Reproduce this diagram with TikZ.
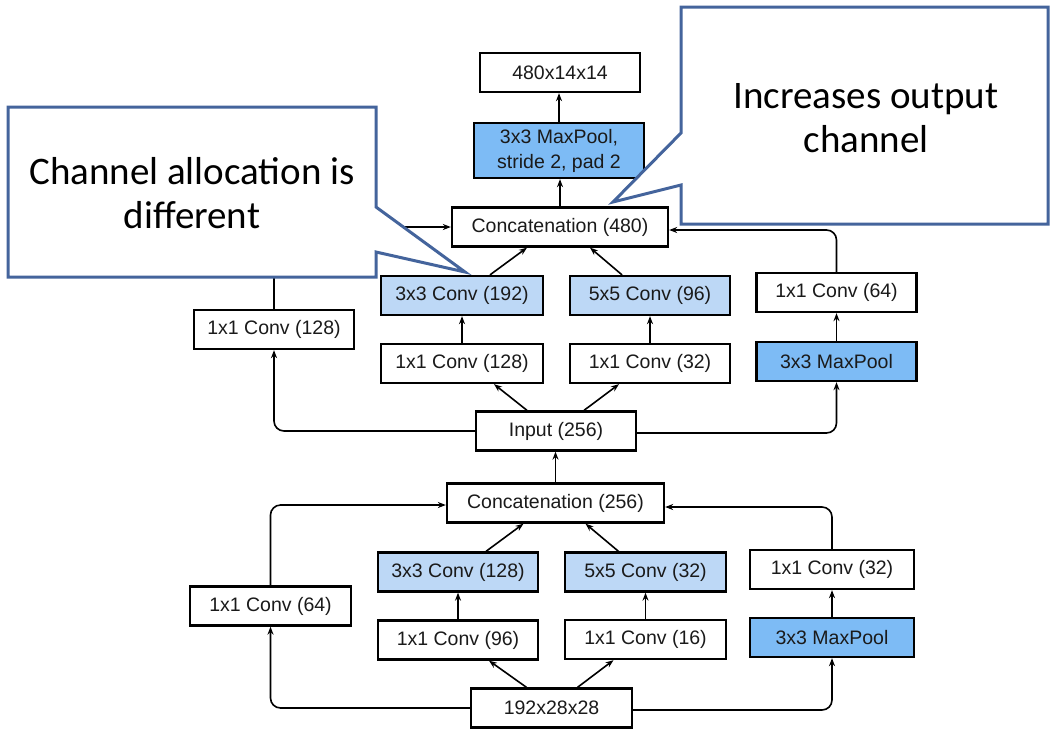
\documentclass[tikz,border=0pt]{standalone}
\usepackage{fontspec}
\setmainfont{Liberation Sans}
\newfontfamily\callfont{Carlito}
\usetikzlibrary{arrows.meta,calc}
\definecolor{lblue}{HTML}{BDD8F6}
\definecolor{dblue}{HTML}{7DBBF5}
\definecolor{callc}{HTML}{44649C}
\definecolor{txt}{HTML}{1A1A1A}
\begin{document}
\begin{tikzpicture}[x=1pt,y=-1pt,
  box/.style={draw=black,line width=2.3pt,fill=white,inner sep=0pt,
    minimum width=160pt,minimum height=39pt,align=center,text=txt,
    font=\fontsize{19.5}{25}\selectfont},
  conv/.style={box,fill=lblue},
  pool/.style={box,fill=dblue},
  arr/.style={-{Stealth[length=8pt,width=6pt]},line width=1.6pt},
  elbow/.style={arr,rounded corners=10pt},
  callout/.style={draw=callc,line width=3pt,fill=white,line join=miter},
  calltext/.style={align=center,font=\callfont\fontsize{39}{44}\selectfont}]
\useasboundingbox (0,0) rectangle (1056,740);
\fill[white] (0,0) rectangle (1056,740);

% ---- upper inception block ----
\node[box] (out480) at (560,72.5) {480x14x14};
\node[pool,minimum width=170pt,minimum height=55pt] (mpS) at (559,150.5) {3x3 MaxPool,\\stride 2, pad 2};
\node[box,minimum width=216pt] (cat480) at (560,227) {Concatenation (480)};
\node[conv,minimum width=162pt] (c3a) at (462,295.5) {3x3 Conv (192)};
\node[conv] (c5a) at (650,295.5) {5x5 Conv (96)};
\node[box] (c1pa) at (836.5,292.5) {1x1 Conv (64)};
\node[box] (c1la) at (274,329.5) {1x1 Conv (128)};
\node[box,minimum width=162pt] (c1ma) at (462,363.5) {1x1 Conv (128)};
\node[box] (c1ra) at (650,363.5) {1x1 Conv (32)};
\node[pool] (mpa) at (836.5,361.5) {3x3 MaxPool};
\node[box] (inp) at (556,431) {Input (256)};

% ---- lower inception block ----
\node[box,minimum width=217pt] (cat256) at (555.5,503) {Concatenation (256)};
\node[conv] (c3b) at (458,572) {3x3 Conv (128)};
\node[conv,minimum width=161pt] (c5b) at (645.5,572) {5x5 Conv (32)};
\node[box,minimum width=164pt] (c1pb) at (832,569.5) {1x1 Conv (32)};
\node[box,minimum width=161pt] (c1lb) at (270.5,606) {1x1 Conv (64)};
\node[box] (c1mb) at (458,640) {1x1 Conv (96)};
\node[box,minimum width=161pt] (c1rb) at (645.5,639.5) {1x1 Conv (16)};
\node[pool,minimum width=164pt] (mpb) at (832,637.5) {3x3 MaxPool};
\node[box,minimum width=161pt] (in192) at (551.5,708) {192x28x28};

% ---- upper connectors ----
\draw[arr] (mpS.north) -- (mpS.north |- out480.south);
\draw[arr] (cat480.north) -- (cat480.north |- mpS.south);
\draw[arr] ([xshift=28pt]c3a.north) -- ([xshift=-33pt]cat480.south);
\draw[arr] ([xshift=-28pt]c5a.north) -- ([xshift=30pt]cat480.south);
\draw[arr] (c1ma.north) -- (c3a.south);
\draw[arr] (c1ra.north) -- (c5a.south);
\draw[arr] (mpa.north) -- (c1pa.south);
\draw[elbow] (c1pa.north) |- ([yshift=-3pt]cat480.east);
\draw[elbow] (c1la.north) |- (cat480.west);
\draw[arr] ([xshift=-29pt]inp.north) -- ([xshift=32pt]c1ma.south);
\draw[arr] ([xshift=28pt]inp.north) -- ([xshift=-31pt]c1ra.south);
\draw[elbow] (inp.west) -| (c1la.south);
\draw[elbow] ([yshift=-2pt]inp.east) -| (mpa.south);
\draw[arr] (cat256.north) -- (cat256.north |- inp.south);

% ---- lower connectors ----
\draw[arr] ([xshift=-25pt]in192.north) -- ([xshift=31pt]c1mb.south);
\draw[arr] ([xshift=26pt]in192.north) -- ([xshift=-32pt]c1rb.south);
\draw[elbow] (in192.west) -| (c1lb.south);
\draw[elbow] ([yshift=-2pt]in192.east) -| (mpb.south);
\draw[arr] (c1mb.north) -- (c3b.south);
\draw[arr] (c1rb.north) -- (c5b.south);
\draw[arr] (mpb.north) -- (c1pb.south);
\draw[arr] ([xshift=28pt]c3b.north) -- ([xshift=-32pt]cat256.south);
\draw[arr] ([xshift=-27pt]c5b.north) -- ([xshift=30pt]cat256.south);
\draw[elbow] (c1lb.north) |- ([yshift=-2pt]cat256.west);
\draw[elbow] (c1pb.north) |- ([yshift=-4pt]cat256.east);

% ---- callouts ----
\draw[callout] (8,107) -- (376,107) -- (376,207) -- (465,272) -- (376,252)
  -- (376,277) -- (8,277) -- cycle;
\node[calltext] (noteL) at (192,193) {Channel allocation is\\different};
\draw[callout] (681,7) -- (1048,7) -- (1048,224) -- (681,224) -- (681,185)
  -- (613,202) -- (681,133) -- cycle;
\node[calltext] (noteR) at (866,118) {Increases output\\channel};
\end{tikzpicture}
\end{document}
